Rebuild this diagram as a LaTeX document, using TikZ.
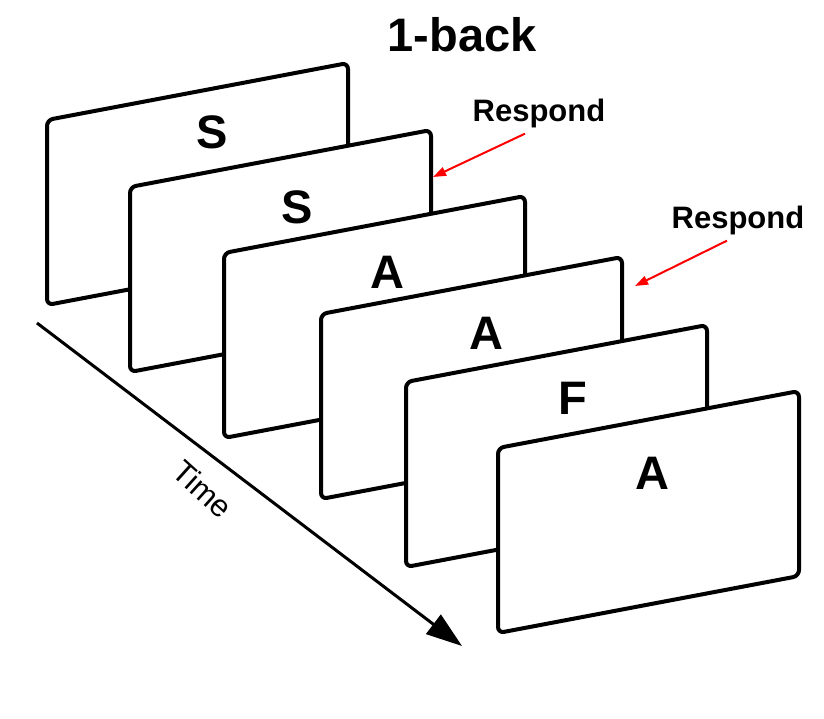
\documentclass[tikz,border=0pt]{standalone}
\usepackage{fontspec}
\setmainfont{Liberation Sans}
\usetikzlibrary{positioning,arrows.meta,calc}

\begin{document}
\begin{tikzpicture}[
    x=1pt, y=-1pt,
    card/.style={draw, fill=white, line width=4pt, rounded corners=6pt, line join=round},
    letter/.style={font=\bfseries\fontsize{47}{47}\selectfont, inner sep=0pt},
    cue/.style={font=\bfseries\fontsize{31}{31}\selectfont, inner sep=0pt},
    hint/.style={->, red, line width=2pt, >={Triangle[length=13pt, width=9pt]}},
  ]
    \useasboundingbox (0,0) rectangle (824,718);
    \node[letter] (title) at (462,35) {1-back};
    % time axis
    \coordinate (t0) at (37,323);
    \coordinate (t1) at (462,646);
    \draw[line width=3pt, -{Triangle[length=36pt, width=24pt]}] (t0) -- (t1);
    \node[font=\fontsize{31}{31}\selectfont, rotate=-42, inner sep=0pt] (time) at (203,489) {Time};
    % cards, back to front
    \draw[card] (47,120) -- ++(301,-57) -- ++(0,185) -- ++(-301,57) -- cycle;
    \node[letter] (stim1) at (212,132) {S};
    \draw[card] (130,187) -- ++(301,-57) -- ++(0,185) -- ++(-301,57) -- cycle;
    \node[letter] (stim2) at (297,207) {S};
    \draw[card] (224,253) -- ++(301,-57) -- ++(0,185) -- ++(-301,57) -- cycle;
    \node[letter] (stim3) at (387,272) {A};
    \draw[card] (321,314) -- ++(301,-57) -- ++(0,185) -- ++(-301,57) -- cycle;
    \node[letter] (stim4) at (486,333) {A};
    \draw[card] (406,382) -- ++(301,-57) -- ++(0,185) -- ++(-301,57) -- cycle;
    \node[letter] (stim5) at (573,398) {F};
    \draw[card] (498,448) -- ++(301,-57) -- ++(0,185) -- ++(-301,57) -- cycle;
    \node[letter] (stim6) at (652,473) {A};
    % responses
    \node[cue] (resp1) at (539,113) {Respond};
    \node[cue] (resp2) at (738,220) {Respond};
    \coordinate (hit1) at (433,177);
    \coordinate (hit2) at (635,286);
    \draw[hint] ([xshift=-14pt, yshift=-6pt]resp1.south) -- (hit1);
    \draw[hint] ([xshift=-11pt, yshift=-6pt]resp2.south) -- (hit2);
  \end{tikzpicture}
\end{document}
